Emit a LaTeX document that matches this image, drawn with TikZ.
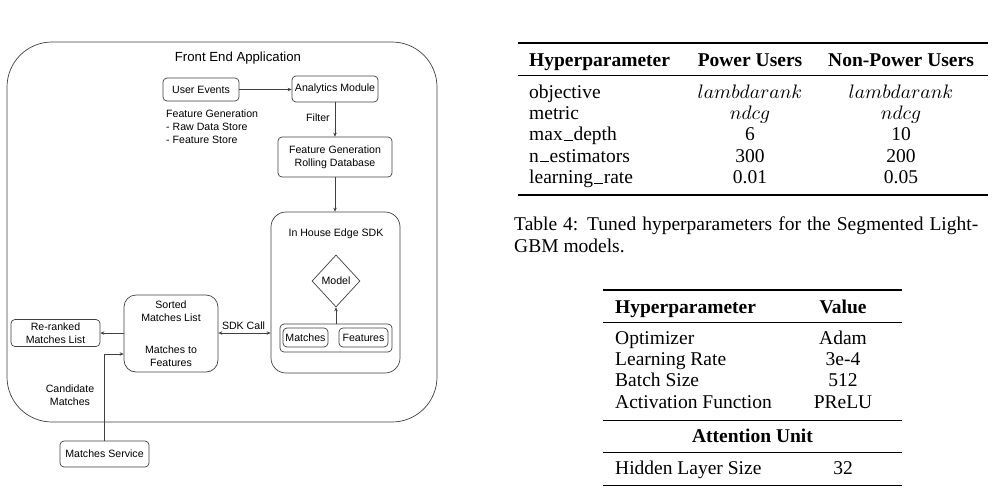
\documentclass[tikz,border=0pt]{standalone}
\usepackage{fontspec}
\setmainfont{Liberation Serif}
\newfontfamily\diagfam{Liberation Sans}
\DeclareFontFamily{OML}{cmm}{\skewchar\font127 }
\DeclareFontShape{OML}{cmm}{m}{it}{<-> cmmi10}{}
\usetikzlibrary{shapes.geometric,arrows.meta}
\newcommand\dgfont{\diagfam\fontsize{10.6}{13}\selectfont}
\newcommand\dgtitlefont{\diagfam\fontsize{13.2}{15}\selectfont}
\newcommand\tbfont{\fontsize{19.5}{23}\selectfont}
\newcommand\undsc{\leavevmode\kern.05em\vbox{\hrule width.45em height.9pt}\kern.05em}
\begin{document}
\begin{tikzpicture}[x=1pt,y=-1pt,
  box/.style={draw=black!75, line width=0.7pt, rounded corners=4pt, inner sep=0pt, font=\dgfont, align=center},
  arr/.style={draw=black!75, line width=0.7pt, -{Stealth[length=4pt,width=3.5pt]}},
  arrtwo/.style={draw=black!75, line width=0.7pt, {Stealth[length=4pt,width=3.5pt]}-{Stealth[length=4pt,width=3.5pt]}},
  lbl/.style={inner sep=0pt, font=\dgfont, align=center},
  cell/.style={inner sep=0pt, font=\tbfont},
  hrl/.style={line width=1.5pt},
  mrl/.style={line width=0.9pt}]
\useasboundingbox (0,0) rectangle (997,488);

% ---------------- diagram ----------------
\node[box, rounded corners=45pt, minimum width=430pt, minimum height=380pt] (app) at (222,232) {};
\node[lbl, font=\dgtitlefont] (apptitle) at (238,58) {Front End Application};

\node[box, minimum width=76pt, minimum height=23pt] (ue) at (201,89.5) {User Events};
\node[box, minimum width=86pt, minimum height=26pt] (am) at (335,89) {Analytics Module};
\node[lbl, align=left, anchor=west] (fglist) at (166,127) {Feature Generation\\- Raw Data Store\\- Feature Store};
\node[lbl] (filter) at (318,118) {Filter};
\node[box, minimum width=114pt, minimum height=40pt] (fg) at (335,157) {Feature Generation\\Rolling Database};

\node[box, rounded corners=15pt, minimum width=129pt, minimum height=161pt] (sdk) at (335.5,292.5) {};
\node[lbl] (sdktitle) at (336,234) {In House Edge SDK};
\node[draw=black!75, line width=0.7pt, diamond, minimum width=48pt, minimum height=52pt, inner sep=0pt, font=\dgfont] (model) at (336,281) {Model};
\node[box, minimum width=112pt, minimum height=28pt] (inner) at (336,338) {};
\node[box, minimum width=45pt, minimum height=19pt] (mt) at (305.5,337.5) {Matches};
\node[box, minimum width=49pt, minimum height=19pt] (ft) at (363.5,337.5) {Features};

\node[box, rounded corners=12pt, minimum width=94pt, minimum height=77pt] (sorted) at (171,333.5) {Sorted\\Matches List\\[19pt]Matches to\\Features};
\node[box, minimum width=89pt, minimum height=27pt] (rr) at (55.5,333) {Re-ranked\\Matches List};
\node[box, minimum width=89pt, minimum height=26pt] (ms) at (104.5,454) {Matches Service};
\node[lbl] (cand) at (70,395.5) {Candidate\\Matches};
\node[lbl] (sdkcall) at (243.5,326) {SDK Call};

\draw[arr] (ue.east) -- (ue.east -| am.west);
\draw[arr] (am.south) -- (fg.north);
\draw[arr] (fg.south) -- (fg.south |- sdk.north);
\draw[arr] (inner.north) -- (model.south);
\draw[arr] (sorted.west |- rr.east) -- (rr.east);
\draw[arrtwo] (sorted.east |- rr.east) -- (sdk.west |- rr.east);
\draw[arr] (ms.north) |- ([yshift=-20.5pt]sorted.west);

% ---------------- table 4 ----------------
\draw[hrl] (518,43) -- (988,43);
\draw[mrl] (518,75) -- (988,75);
\draw[hrl] (518,195) -- (988,195);
\node[cell, anchor=base west] (ta0) at (529,66) {\bfseries Hyperparameter};
\node[cell, anchor=base] (tb0) at (750,66) {\bfseries Power Users};
\node[cell, anchor=base] (tc0) at (901,66) {\bfseries Non-Power Users};
\node[cell, anchor=base west] (ta1) at (529,98) {objective};
\node[cell, anchor=base] (tb1) at (750,98) {$lambdarank$};
\node[cell, anchor=base] (tc1) at (901,98) {$lambdarank$};
\node[cell, anchor=base west] (ta2) at (529,119.4) {metric};
\node[cell, anchor=base] (tb2) at (750,119.4) {$ndcg$};
\node[cell, anchor=base] (tc2) at (901,119.4) {$ndcg$};
\node[cell, anchor=base west] (ta3) at (529,140.8) {max\undsc depth};
\node[cell, anchor=base] (tb3) at (750,140.8) {6};
\node[cell, anchor=base] (tc3) at (901,140.8) {10};
\node[cell, anchor=base west] (ta4) at (529,162.2) {n\undsc estimators};
\node[cell, anchor=base] (tb4) at (750,162.2) {300};
\node[cell, anchor=base] (tc4) at (901,162.2) {200};
\node[cell, anchor=base west] (ta5) at (529,183.6) {learning\undsc rate};
\node[cell, anchor=base] (tb5) at (750,183.6) {0.01};
\node[cell, anchor=base] (tc5) at (901,183.6) {0.05};

\node[cell, anchor=base west] (capa) at (514,230.5) {\makebox[464pt][s]{Table 4: Tuned hyperparameters for the Segmented Light-}};
\node[cell, anchor=base west] (capb) at (514,252.5) {GBM models.};

% ---------------- second table ----------------
\draw[hrl] (603,290) -- (902,290);
\draw[mrl] (603,322) -- (902,322);
\draw[mrl] (603,420) -- (902,420);
\draw[mrl] (603,452) -- (902,452);
\draw[hrl] (603,485.5) -- (902,485.5);
\node[cell, anchor=base west] (ua0) at (615,313) {\bfseries Hyperparameter};
\node[cell, anchor=base] (ub0) at (843,313) {\bfseries Value};
\node[cell, anchor=base west] (ua1) at (615,344) {Optimizer};
\node[cell, anchor=base] (ub1) at (843,344) {Adam};
\node[cell, anchor=base west] (ua2) at (615,365.3) {Learning Rate};
\node[cell, anchor=base] (ub2) at (843,365.3) {3e-4};
\node[cell, anchor=base west] (ua3) at (615,386.7) {Batch Size};
\node[cell, anchor=base] (ub3) at (843,386.7) {512};
\node[cell, anchor=base west] (ua4) at (615,408) {Activation Function};
\node[cell, anchor=base] (ub4) at (843,408) {PReLU};
\node[cell, anchor=base] (uatt) at (752.5,442) {\bfseries Attention Unit};
\node[cell, anchor=base west] (ua5) at (615,474) {Hidden Layer Size};
\node[cell, anchor=base] (ub5) at (843,474) {32};
\end{tikzpicture}
\end{document}
